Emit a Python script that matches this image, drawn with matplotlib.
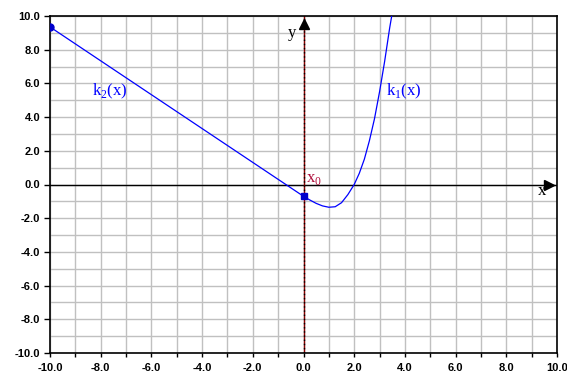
import numpy as np
import matplotlib
matplotlib.use("Agg")
import matplotlib.pyplot as plt

# values
k1_x = [0.0, 0.25, 0.5, 0.75, 1.0, 1.25, 1.5, 1.75, 2.0, 2.2, 2.4, 2.6, 2.8, 3.0, 3.2, 3.4, 3.48]
k1_y = [-0.7, -0.92, -1.12, -1.27, -1.35, -1.32, -1.08, -0.6, 0.0, 0.66, 1.5, 2.6, 3.9, 5.5, 7.3, 9.3, 10.0]
k2_x = [-10.0, 0.0]
k2_y = [9.35, -0.7]
x0 = (0.0, -0.7)

major_ticks = np.arange(-10, 11, 2)
minor_ticks = np.arange(-10, 11, 1)

fig = plt.figure(figsize=(5.67, 3.85), dpi=100)
ax = fig.add_axes([50/567, 32/385, 507/567, 337/385])

ax.set_xlim(-10, 10)
ax.set_ylim(-10, 10)

# grid every unit
ax.set_xticks(major_ticks)
ax.set_yticks(major_ticks)
ax.set_xticks(minor_ticks, minor=True)
ax.set_yticks(minor_ticks, minor=True)
ax.grid(True, which='both', color='#c0c0c0', lw=1)
ax.set_axisbelow(True)
ax.tick_params(axis='x', which='both', direction='out', length=3, width=1, pad=4)
ax.tick_params(axis='y', which='major', direction='out', length=4, width=1, pad=3)
ax.tick_params(axis='y', which='minor', length=0)
ax.set_xticklabels(["%.1f" % t for t in major_ticks])
ax.set_yticklabels(["%.1f" % t for t in major_ticks])
for lab in ax.get_xticklabels() + ax.get_yticklabels():
    lab.set_fontfamily('Liberation Sans')
    lab.set_fontweight('bold')
    lab.set_fontsize(8)
for s in ax.spines.values():
    s.set_color('black')
    s.set_linewidth(1.2)

# axes through origin
ax.axhline(0, color='black', lw=1, zorder=2)
ax.axvline(0, color='#8b0000', lw=1, zorder=2)
ax.axvline(0, color='black', lw=1, ls=(0, (1, 2)), zorder=2)
ax.plot([0], [9.55], marker='^', color='black', ms=7, clip_on=False, zorder=5)
ax.plot([9.7], [0], marker='>', color='black', ms=7, clip_on=False, zorder=5)

# curves
ax.plot(k2_x, k2_y, color='#0000ff', lw=0.9, zorder=3)
ax.plot(k1_x, k1_y, color='#0000ff', lw=0.9, zorder=3)
ax.plot([k2_x[0]], [k2_y[0]], 'o', color='#0000cc', ms=5, zorder=4)
ax.plot([x0[0]], [x0[1]], 's', color='#0000cc', ms=5, zorder=4)

serif = 'Liberation Serif'
ax.text(-8.35, 5.5, r'k$_\mathregular{2}$(x)', color='#0000ff', fontsize=12,
        family=serif, va='center', ha='left')
ax.text(3.25, 5.55, r'k$_\mathregular{1}$(x)', color='#0000ff', fontsize=12,
        family=serif, va='center', ha='left')
ax.text(0.1, 0.3, r'x$_\mathregular{0}$', color='#b0103c', fontsize=12,
        family=serif, va='center', ha='left')
ax.text(-0.3, 9.0, 'y', color='black', fontsize=12, family=serif, va='center', ha='right')
ax.text(9.4, -0.4, 'x', color='black', fontsize=12, family=serif, va='center', ha='center')

fig.savefig('out.png', dpi=100)
